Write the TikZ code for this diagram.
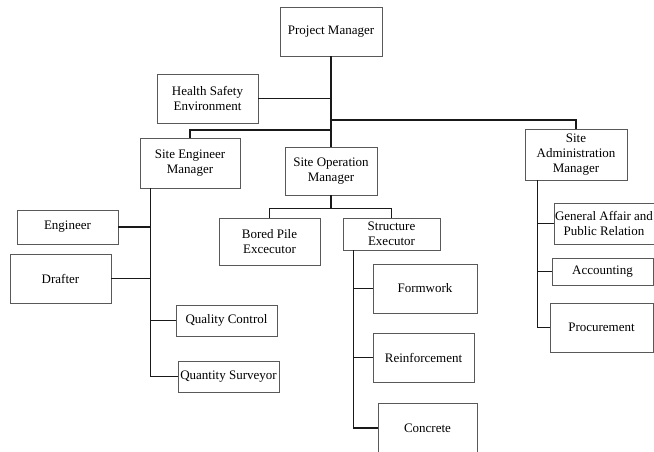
\documentclass[tikz,border=0pt]{standalone}
\usepackage{fontspec}
\setmainfont{Liberation Serif}
\usepackage{xcolor}
\usepackage{tikz}

\begin{document}
\begin{tikzpicture}[x=1pt, y=-1pt,
    unit/.style={rectangle, draw=black!65, line width=0.7pt, inner sep=1pt, align=center,
                 font=\fontsize{13}{15}\selectfont},
    link/.style={draw=black!90, line width=1.3pt}]
    \useasboundingbox (0,0) rectangle (654,452);

    \node[unit, minimum width=102, minimum height=49] (pm) at (331, 31.5) {Project Manager};
    \node[unit, minimum width=101, minimum height=49] (hse) at (207.5, 98.5) {Health Safety\\Environment};
    \node[unit, minimum width=100, minimum height=50] (sem) at (190, 163) {Site Engineer\\Manager};
    \node[unit, minimum width=92, minimum height=48] (som) at (331, 171) {Site Operation\\Manager};
    \node[unit, minimum width=102, minimum height=51] (sam) at (576, 154.5) {Site\\Administration\\Manager};

    \node[unit, minimum width=101, minimum height=34] (eng) at (67.5, 227) {Engineer};
    \node[unit, minimum width=101, minimum height=49] (drafter) at (60.5, 278.5) {Drafter};
    \node[unit, minimum width=101, minimum height=31] (qc) at (226.5, 320.5) {Quality Control};
    \node[unit, minimum width=101, minimum height=31] (qs) at (228.5, 376.5) {Quantity Surveyor};

    \node[unit, minimum width=101, minimum height=47] (pile) at (269.5, 241.5) {Bored Pile\\Excecutor};
    \node[unit, minimum width=97, minimum height=32] (struct) at (391.5, 234) {Structure\\Executor};
    \node[unit, minimum width=104, minimum height=49] (form) at (425, 288.5) {Formwork};
    \node[unit, minimum width=101, minimum height=49] (reinf) at (423.5, 357.5) {Reinforcement};
    \node[unit, minimum width=99, minimum height=50] (concrete) at (427.5, 428) {Concrete};

    \node[unit, minimum width=100, minimum height=41] (affair) at (604, 223.5) {General Affair and\\Public Relation};
    \node[unit, minimum width=101, minimum height=27] (acct) at (602.5, 271.5) {Accounting};
    \node[unit, minimum width=103, minimum height=49] (proc) at (601.5, 327.5) {Procurement};

    % top level
    \coordinate (jright) at (331, 120);
    \coordinate (jleft) at (331, 130);
    \draw[link] (pm.south) -- (som.north);
    \draw[link] (hse.east) -- (hse.east -| pm.south);
    \draw[link] (jright) -| (sam.north);
    \draw[link] (jleft) -| (sem.north);

    % site engineer branch
    \coordinate (semtrunk) at ([xshift=11]sem.south west);
    \draw[link] (semtrunk) |- (qs.west);
    \draw[link] (eng.east) -- (eng.east -| semtrunk);
    \draw[link] (drafter.east) -- (drafter.east -| semtrunk);
    \draw[link] (qc.west) -- (qc.west -| semtrunk);

    % site operation branch
    \draw[link] (som.south) -- ++(0,13) coordinate (jop);
    \draw[link] (pile.north) |- (jop) -| (struct.north);
    \coordinate (setrunk) at ([xshift=11]struct.south west);
    \draw[link] (setrunk) |- (concrete.west);
    \draw[link] (form.west) -- (form.west -| setrunk);
    \draw[link] (reinf.west) -- (reinf.west -| setrunk);

    % site administration branch
    \coordinate (samtrunk) at ([xshift=13]sam.south west);
    \draw[link] (samtrunk) |- (proc.west);
    \draw[link] (affair.west) -- (affair.west -| samtrunk);
    \draw[link] (acct.west) -- (acct.west -| samtrunk);
\end{tikzpicture}
\end{document}
